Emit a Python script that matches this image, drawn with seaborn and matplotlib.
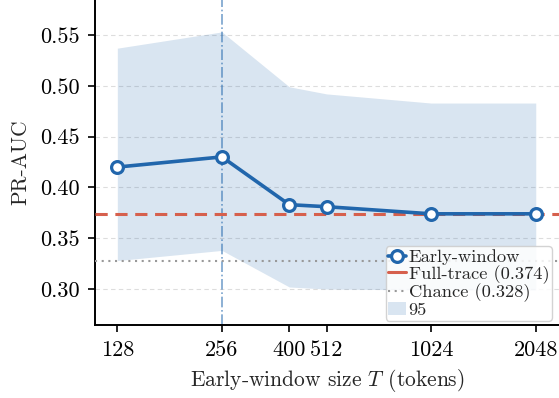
import matplotlib
matplotlib.use("Agg")
import matplotlib.pyplot as plt
import seaborn as sns
import pandas as pd
from matplotlib.patches import Patch
from matplotlib.ticker import FixedLocator, FixedFormatter, NullLocator

# Early-window sizes (tokens) and PR-AUC with 95% bootstrap band
window_sizes = [128, 256, 400, 512, 1024, 2048]
pr_auc = [0.420, 0.430, 0.383, 0.381, 0.374, 0.374]
ci_low = [0.328, 0.338, 0.302, 0.300, 0.299, 0.299]
ci_high = [0.537, 0.553, 0.499, 0.492, 0.483, 0.483]
full_trace = 0.374
chance = 0.328
selected_T = 256
x_ticks = [128, 256, 400, 512, 1024, 2048]
y_ticks = [0.30, 0.35, 0.40, 0.45, 0.50, 0.55]

sns.set_style("ticks")
plt.rcParams["font.family"] = ["cmr10", "DejaVu Serif"]
plt.rcParams["mathtext.fontset"] = "cm"
plt.rcParams["axes.formatter.use_mathtext"] = True

blue = "#2166ac"
red = "#d6604d"
grey = "#999999"

df = pd.DataFrame({"T": window_sizes, "PR-AUC": pr_auc})

fig = plt.figure(figsize=(5.59, 3.98), dpi=100)
ax = fig.add_axes([95 / 559, 73 / 398, 464 / 559, 325 / 398])

ax.fill_between(window_sizes, ci_low, ci_high, color=blue, alpha=0.17,
                linewidth=0, zorder=1)
ax.axvline(selected_T, color=blue, alpha=0.6, linestyle="-.", linewidth=1.2,
           zorder=2)
ax.axhline(full_trace, color=red, linestyle=(0, (4, 2.5)), linewidth=2.2,
           zorder=3)
ax.axhline(chance, color=grey, linestyle=(0, (1, 2.2)), linewidth=1.5,
           zorder=3)
sns.lineplot(data=df, x="T", y="PR-AUC", ax=ax, color=blue, linewidth=2.6,
             marker="o", markersize=8.5, markerfacecolor="white",
             markeredgecolor=blue, markeredgewidth=2.3, zorder=4)

ax.set_xscale("log", base=2)
ax.set_xlim(110.4, 2389)
ax.set_ylim(0.2646, 0.5844)
ax.xaxis.set_major_locator(FixedLocator(x_ticks))
ax.xaxis.set_major_formatter(FixedFormatter([str(t) for t in x_ticks]))
ax.xaxis.set_minor_locator(NullLocator())
ax.yaxis.set_major_locator(FixedLocator(y_ticks))
ax.yaxis.set_major_formatter(FixedFormatter([f"{v:.2f}" for v in y_ticks]))
ax.tick_params(axis="both", labelsize=16, length=5, width=1.2, colors="black",
               pad=6)
ax.grid(axis="y", color="#dddddd", linestyle=(0, (4, 3)), linewidth=0.8)
ax.grid(axis="x", visible=False)
sns.despine(ax=ax)
for s in ("left", "bottom"):
    ax.spines[s].set_linewidth(1.4)
    ax.spines[s].set_color("black")

ax.set_xlabel("Early-window size $T$ (tokens)", fontsize=15.5, labelpad=5)
ax.set_ylabel("PR-AUC", fontsize=15.5, labelpad=7)

handles = [
    plt.Line2D([], [], color=blue, linewidth=2.6, marker="o", markersize=8.5,
               markerfacecolor="white", markeredgecolor=blue,
               markeredgewidth=2.3),
    plt.Line2D([], [], color=red, linestyle="-", linewidth=2.2),
    plt.Line2D([], [], color=grey, linestyle=(0, (1, 2.2)), linewidth=1.5),
    Patch(facecolor=blue, alpha=0.17, linewidth=0),
]
labels = ["Early-window", f"Full-trace ({full_trace:.3f})",
          f"Chance ({chance:.3f})", "95"]
leg = ax.legend(handles, labels, loc="lower right",
                bbox_to_anchor=((552 - 95) / 464, 4 / 325),
                borderaxespad=0, fontsize=13.3, labelspacing=0.0,
                handlelength=0.95, handletextpad=0.15, borderpad=0.15,
                frameon=True, framealpha=0.85, edgecolor="#cccccc",
                fancybox=True)
leg.set_zorder(5)

fig.savefig("out.png", dpi=100)
